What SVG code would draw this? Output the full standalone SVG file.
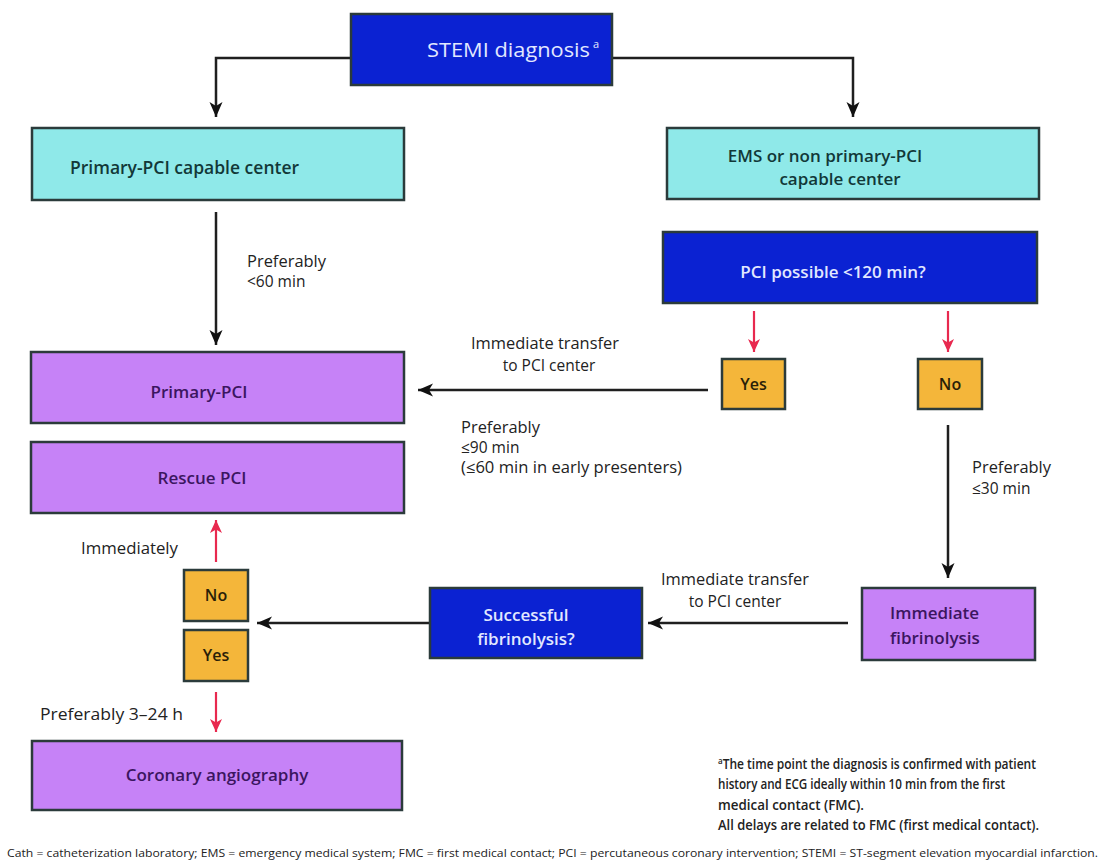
<svg xmlns="http://www.w3.org/2000/svg" width="1102" height="863" viewBox="0 0 1102 863">
<defs>
<style>
.box{stroke:#2b3b3b;stroke-width:2.5}
.blue{fill:#0b22d2}
.cyan{fill:#8fe9e9}
.purple{fill:#c682f7}
.orange{fill:#f4b63a}
.t{font-family:"Open Sans","Noto Sans",sans-serif}
.bt{font-size:17px;font-weight:600;fill:#e2e8ff}
.st{font-size:20px;font-weight:500;fill:#e2e8ff}
.sup{font-size:11px;font-weight:500;fill:#e2e8ff}
.ct{font-size:17.5px;font-weight:600;fill:#123838}
.pt{font-size:17px;font-weight:600;fill:#3b1560}
.ot{font-size:16px;font-weight:600;fill:#2a1e08}
.lb{font-size:15.5px;font-weight:500;fill:#222}
.fn{font-size:13.5px;font-weight:600;fill:#222}
.ab{font-size:11px;font-weight:500;fill:#222}
.bl{stroke:#1f1f1f;stroke-width:2.5;fill:none}
.rd{stroke:#e8294f;stroke-width:2.2;fill:none}
</style>
<marker id="ah" markerUnits="userSpaceOnUse" markerWidth="16" markerHeight="16" viewBox="0 0 16 16" refX="15" refY="8" orient="auto">
<path d="M0,1.5 L15,8 L0,14.5 L4,8 Z" fill="#111"/>
</marker>
<marker id="ar" markerUnits="userSpaceOnUse" markerWidth="14" markerHeight="14" viewBox="0 0 14 14" refX="13" refY="7" orient="auto">
<path d="M0,1 L13,7 L0,13 L3.5,7 Z" fill="#e8294f"/>
</marker>
</defs>
<rect width="1102" height="863" fill="#fff"/>

<g id="connectors">
<path class="bl" d="M351,58 H216 V117" marker-end="url(#ah)"/>
<path class="bl" d="M612,58 H853 V117" marker-end="url(#ah)"/>
<path class="bl" d="M216,212 V345" marker-end="url(#ah)"/>
<path class="rd" d="M754,311 V352" marker-end="url(#ar)"/>
<path class="rd" d="M948,311 V352" marker-end="url(#ar)"/>
<path class="bl" d="M708,390 H418" marker-end="url(#ah)"/>
<path class="bl" d="M948,425 V578" marker-end="url(#ah)"/>
<path class="bl" d="M848,623 H648" marker-end="url(#ah)"/>
<path class="bl" d="M430,623 H257" marker-end="url(#ah)"/>
<path class="rd" d="M216,562 V520" marker-end="url(#ar)"/>
<path class="rd" d="M216,692 V732" marker-end="url(#ar)"/>
</g>

<g id="stemi">
<rect class="box blue" x="351" y="14" width="261" height="71"/>
<text class="t st" x="427" y="57" textLength="163" lengthAdjust="spacingAndGlyphs">STEMI diagnosis</text>
<text class="t sup" x="593" y="48">a</text>
</g>
<g id="primary-capable">
<rect class="box cyan" x="32" y="128" width="372" height="72"/>
<text class="t ct" x="70" y="174">Primary-PCI capable center</text>
</g>
<g id="ems">
<rect class="box cyan" x="667" y="128" width="372" height="71"/>
<text class="t ct" x="825" y="162" text-anchor="middle" font-size="17" style="font-size:17px">EMS or non primary-PCI</text>
<text class="t ct" x="840" y="185" text-anchor="middle" style="font-size:17px">capable center</text>
</g>
<g id="pci-possible">
<rect class="box blue" x="663" y="232" width="374" height="71"/>
<text class="t bt" x="833" y="278" text-anchor="middle">PCI possible &lt;120 min?</text>
</g>
<g id="yes1">
<rect class="box orange" x="722" y="359" width="63" height="50"/>
<text class="t ot" x="753.5" y="390" text-anchor="middle">Yes</text>
</g>
<g id="no1">
<rect class="box orange" x="918" y="359" width="64" height="50"/>
<text class="t ot" x="950" y="390" text-anchor="middle">No</text>
</g>
<g id="primary-pci">
<rect class="box purple" x="31" y="352" width="373" height="71"/>
<text class="t pt" x="199" y="398" text-anchor="middle">Primary-PCI</text>
</g>
<g id="rescue-pci">
<rect class="box purple" x="31" y="442" width="373" height="71"/>
<text class="t pt" x="202" y="484" text-anchor="middle">Rescue PCI</text>
</g>
<g id="fibrinolysis">
<rect class="box purple" x="862" y="588" width="173" height="72"/>
<text class="t pt" x="890" y="619">Immediate</text>
<text class="t pt" x="890" y="644">fibrinolysis</text>
</g>
<g id="successful">
<rect class="box blue" x="430" y="588" width="212" height="70"/>
<text class="t bt" x="526" y="621" text-anchor="middle">Successful</text>
<text class="t bt" x="526" y="645" text-anchor="middle">fibrinolysis?</text>
</g>
<g id="no2">
<rect class="box orange" x="184" y="570" width="64" height="51"/>
<text class="t ot" x="216" y="601" text-anchor="middle">No</text>
</g>
<g id="yes2">
<rect class="box orange" x="184" y="630" width="64" height="51"/>
<text class="t ot" x="216" y="661" text-anchor="middle">Yes</text>
</g>
<g id="angiography">
<rect class="box purple" x="32" y="741" width="370" height="69"/>
<text class="t pt" x="217" y="781" text-anchor="middle">Coronary angiography</text>
</g>

<g id="labels">
<text class="t lb" x="247" y="267" textLength="79" lengthAdjust="spacingAndGlyphs">Preferably</text>
<text class="t lb" x="247" y="287">&lt;60 min</text>
<text class="t lb" x="545" y="349" text-anchor="middle" textLength="148" lengthAdjust="spacingAndGlyphs">Immediate transfer</text>
<text class="t lb" x="549" y="371" text-anchor="middle">to PCI center</text>
<text class="t lb" x="461" y="433" textLength="79" lengthAdjust="spacingAndGlyphs">Preferably</text>
<text class="t lb" x="461" y="453">≤90 min</text>
<text class="t lb" x="461" y="473" textLength="221" lengthAdjust="spacingAndGlyphs">(≤60 min in early presenters)</text>
<text class="t lb" x="972" y="473" textLength="79" lengthAdjust="spacingAndGlyphs">Preferably</text>
<text class="t lb" x="972" y="494">≤30 min</text>
<text class="t lb" x="735" y="585" text-anchor="middle" textLength="148" lengthAdjust="spacingAndGlyphs">Immediate transfer</text>
<text class="t lb" x="735" y="607" text-anchor="middle">to PCI center</text>
<text class="t lb" x="81" y="554" textLength="97" lengthAdjust="spacingAndGlyphs">Immediately</text>
<text class="t lb" x="40" y="720" textLength="143" lengthAdjust="spacingAndGlyphs">Preferably 3–24 h</text>
</g>

<g id="footnote">
<text class="t fn" x="718" y="769" textLength="318" lengthAdjust="spacingAndGlyphs"><tspan font-size="9" dy="-5">a</tspan><tspan dy="5">The time point the diagnosis is confirmed with patient</tspan></text>
<text class="t fn" x="718" y="789" textLength="287" lengthAdjust="spacingAndGlyphs">history and ECG ideally within 10 min from the first</text>
<text class="t fn" x="718" y="810" textLength="146" lengthAdjust="spacingAndGlyphs">medical contact (FMC).</text>
<text class="t fn" x="718" y="830" textLength="321" lengthAdjust="spacingAndGlyphs">All delays are related to FMC (first medical contact).</text>
<text class="t ab" x="7" y="857" textLength="1091" lengthAdjust="spacingAndGlyphs">Cath = catheterization laboratory;  EMS = emergency medical system;  FMC = first medical contact;  PCI = percutaneous coronary intervention;  STEMI = ST-segment elevation myocardial infarction.</text>
</g>
</svg>
